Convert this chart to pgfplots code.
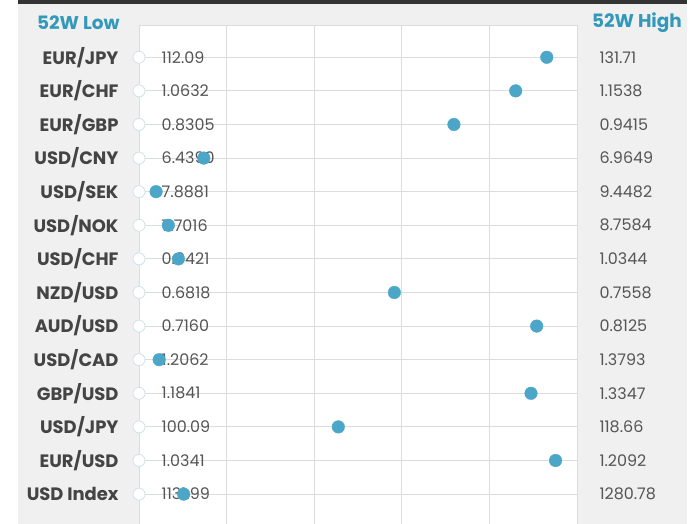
\documentclass[border=0pt]{standalone}
\usepackage{fontspec}
\setmainfont{Poppins}
\usepackage{pgfplots}
\usepackage{pgfplotstable}
\pgfplotsset{compat=1.18}

\definecolor{panel}{HTML}{F0F0F0}
\definecolor{topbar}{HTML}{333333}
\definecolor{gridc}{HTML}{DCDCDC}
\definecolor{dotblue}{HTML}{4BA6C8}
\definecolor{headblue}{HTML}{3399BB}
\definecolor{labelc}{HTML}{444444}
\definecolor{valc}{HTML}{555555}
\definecolor{ringc}{HTML}{D0E2E9}

% row, position within 52-week range (%), low, high, name
\pgfplotstableread[col sep=comma]{
row,pos,low,high,name
0,93.1,112.09,131.71,EUR/JPY
1,86.0,1.0632,1.1538,EUR/CHF
2,71.9,0.8305,0.9415,EUR/GBP
3,14.8,6.4390,6.9649,USD/CNY
4,3.9,7.8881,9.4482,USD/SEK
5,6.7,7.7016,8.7584,USD/NOK
6,9.0,0.9421,1.0344,USD/CHF
7,58.3,0.6818,0.7558,NZD/USD
8,90.8,0.7160,0.8125,AUD/USD
9,4.6,1.2062,1.3793,USD/CAD
10,89.5,1.1841,1.3347,GBP/USD
11,45.5,100.09,118.66,USD/JPY
12,95.1,1.0341,1.2092,EUR/USD
13,10.2,1131.99,1280.78,USD Index
}\fxdata

\begin{document}
\begin{tikzpicture}
\path[use as bounding box] (0,0) rectangle (700bp,-524bp);
\fill[white] (0,0) rectangle (700bp,-524bp);
\fill[panel] (18bp,0) rectangle (687bp,-524bp);
\fill[topbar] (18bp,0) rectangle (687bp,-4bp);
\node[anchor=west, inner sep=0, text=headblue, font=\fontsize{18.5}{20}\selectfont\bfseries] at (37bp,-23bp) {52W Low};
\node[anchor=west, inner sep=0, text=headblue, font=\fontsize{18.5}{20}\selectfont\bfseries] at (592bp,-23bp) {52W High};
\begin{axis}[
  at={(139bp,-25bp)}, anchor=north west,
  scale only axis, width=438bp, height=499bp,
  xmin=0, xmax=100, ymin=-0.96, ymax=13.89,
  y dir=reverse, clip=false,
  axis background/.style={fill=white},
  axis line style={draw=gridc, line width=1bp},
  xtick={0,20,...,100}, xticklabels={},
  ytick={0,...,13},
  yticklabels from table={\fxdata}{name},
  major tick length=0pt,
  grid=major, grid style={draw=gridc, line width=1bp},
  yticklabel style={font=\fontsize{18}{20}\selectfont\bfseries, text=labelc, anchor=east, xshift=-17bp},
]
\addplot[only marks, mark=*, mark size=6bp, mark options={draw=ringc, fill=white, line width=0.8bp},
  nodes near coords, point meta=explicit symbolic,
  nodes near coords style={anchor=west, xshift=19bp, yshift=0bp, text=valc, font=\fontsize{16}{18}\selectfont}]
  table[x expr=0, y=row, meta=low] {\fxdata};
\addplot[only marks, mark=none,
  nodes near coords, point meta=explicit symbolic,
  nodes near coords style={anchor=west, xshift=19bp, text=valc, font=\fontsize{16}{18}\selectfont}]
  table[x expr=100, y=row, meta=high] {\fxdata};
\addplot[only marks, mark=*, mark size=6.3bp, color=dotblue]
  table[x=pos, y=row] {\fxdata};
\end{axis}
\end{tikzpicture}
\end{document}
